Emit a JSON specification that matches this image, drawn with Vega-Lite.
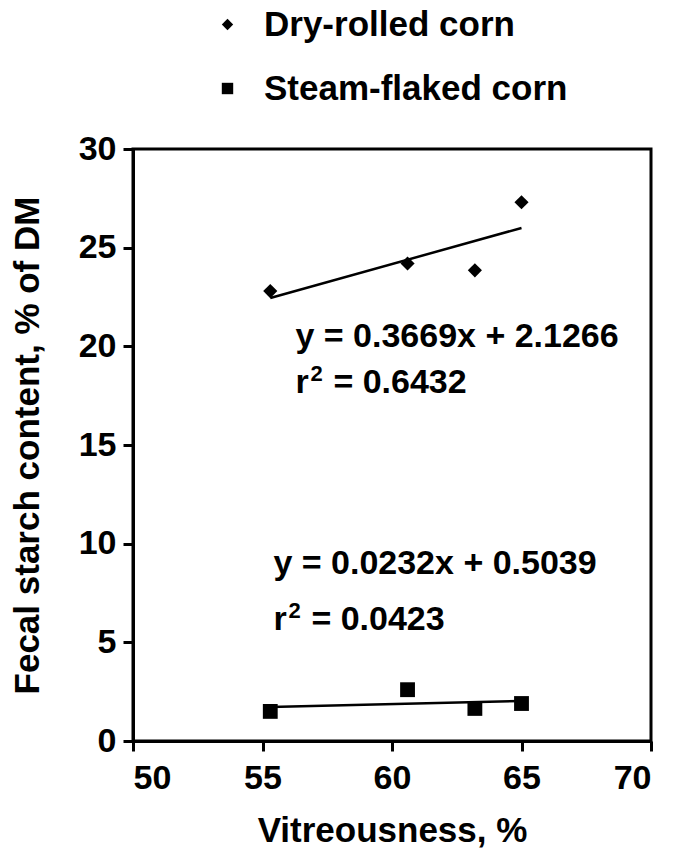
{
  "$schema": "https://vega.github.io/schema/vega-lite/v6.json",
  "width": 518,
  "height": 592,
  "autosize": {"type": "none"},
  "padding": {"left": 133, "top": 149, "right": 26, "bottom": 112},
  "background": "white",
  "config": {
    "font": "Liberation Sans",
    "view": {"stroke": "black", "strokeWidth": 3},
    "axis": {
      "grid": false,
      "domainColor": "black",
      "domainWidth": 3,
      "tickColor": "black",
      "tickWidth": 3,
      "tickSize": 10,
      "labelFont": "Liberation Sans",
      "labelFontSize": 34,
      "labelFontWeight": "bold",
      "labelColor": "black",
      "titleFont": "Liberation Sans",
      "titleFontSize": 35,
      "titleFontWeight": "bold",
      "titleColor": "black"
    },
    "legend": {
      "padding": 0,
      "labelFont": "Liberation Sans",
      "labelFontSize": 35,
      "labelFontWeight": "bold",
      "labelColor": "black",
      "labelLimit": 500,
      "symbolSize": 130,
      "symbolFillColor": "black",
      "symbolStrokeColor": "black",
      "symbolStrokeWidth": 0,
      "labelOffset": 19,
      "rowPadding": 28
    }
  },
  "datasets": {
    "points": [
      {"series": "Dry-rolled corn", "vitreousness": 55.3, "starch": 22.8},
      {"series": "Dry-rolled corn", "vitreousness": 60.6, "starch": 24.2},
      {"series": "Dry-rolled corn", "vitreousness": 63.2, "starch": 23.85},
      {"series": "Dry-rolled corn", "vitreousness": 65.0, "starch": 27.3},
      {"series": "Steam-flaked corn", "vitreousness": 55.3, "starch": 1.5},
      {"series": "Steam-flaked corn", "vitreousness": 60.6, "starch": 2.6},
      {"series": "Steam-flaked corn", "vitreousness": 63.2, "starch": 1.65},
      {"series": "Steam-flaked corn", "vitreousness": 65.0, "starch": 1.9}
    ],
    "fit": [
      {"series": "Dry-rolled corn", "vitreousness": 55.3, "starch": 22.45},
      {"series": "Dry-rolled corn", "vitreousness": 65.0, "starch": 26.0},
      {"series": "Steam-flaked corn", "vitreousness": 55.3, "starch": 1.72},
      {"series": "Steam-flaked corn", "vitreousness": 65.0, "starch": 2.03}
    ],
    "equations": [
      {"label": "y = 0.3669x + 2.1266", "vitreousness": 56.27, "starch": 19.97},
      {"label": "y = 0.0232x + 0.5039", "vitreousness": 55.42, "starch": 8.48}
    ],
    "r2": [
      {"value": "= 0.6432", "vitreousness": 56.27, "starch": 17.65},
      {"value": "= 0.0423", "vitreousness": 55.42, "starch": 5.65}
    ]
  },
  "layer": [
    {
      "data": {"name": "fit"},
      "mark": {"type": "line", "color": "black", "strokeWidth": 2.5},
      "encoding": {
        "x": {"field": "vitreousness", "type": "quantitative"},
        "y": {"field": "starch", "type": "quantitative"},
        "detail": {"field": "series", "type": "nominal"}
      }
    },
    {
      "data": {"name": "points"},
      "transform": [{"filter": "datum.series === 'Dry-rolled corn'"}],
      "mark": {"type": "point", "filled": true, "color": "black", "opacity": 1, "size": 200},
      "encoding": {
        "x": {
          "field": "vitreousness",
          "type": "quantitative",
          "scale": {"domain": [50, 70], "nice": false, "zero": false},
          "axis": {"values": [50, 55, 60, 65, 70], "title": "Vitreousness, %", "labelPadding": 10, "titlePadding": 18}
        },
        "y": {
          "field": "starch",
          "type": "quantitative",
          "scale": {"domain": [0, 30], "nice": false},
          "axis": {"values": [0, 5, 10, 15, 20, 25, 30], "title": "Fecal starch content, % of DM", "labelPadding": 7, "titlePadding": 33}
        },
        "shape": {
          "field": "series",
          "type": "nominal",
          "scale": {"domain": ["Dry-rolled corn", "Steam-flaked corn"], "range": ["diamond", "square"]},
          "legend": {"title": null, "orient": "none", "legendX": 77, "legendY": -142, "direction": "vertical"}
        }
      }
    },
    {
      "data": {"name": "points"},
      "transform": [{"filter": "datum.series === 'Steam-flaked corn'"}],
      "mark": {"type": "point", "filled": true, "color": "black", "opacity": 1, "size": 220},
      "encoding": {
        "x": {"field": "vitreousness", "type": "quantitative"},
        "y": {"field": "starch", "type": "quantitative"},
        "shape": {
          "field": "series",
          "type": "nominal",
          "scale": {"domain": ["Dry-rolled corn", "Steam-flaked corn"], "range": ["diamond", "square"]},
          "legend": {"title": null, "orient": "none", "legendX": 77, "legendY": -142, "direction": "vertical"}
        }
      }
    },
    {
      "data": {"name": "equations"},
      "mark": {"type": "text", "align": "left", "baseline": "alphabetic", "fontSize": 34, "fontWeight": "bold", "color": "black", "font": "Liberation Sans"},
      "encoding": {
        "x": {"field": "vitreousness", "type": "quantitative"},
        "y": {"field": "starch", "type": "quantitative"},
        "text": {"field": "label", "type": "nominal"}
      }
    },
    {
      "data": {"name": "r2"},
      "mark": {"type": "text", "text": "r", "align": "left", "baseline": "alphabetic", "fontSize": 34, "fontWeight": "bold", "color": "black", "font": "Liberation Sans"},
      "encoding": {
        "x": {"field": "vitreousness", "type": "quantitative"},
        "y": {"field": "starch", "type": "quantitative"}
      }
    },
    {
      "data": {"name": "r2"},
      "mark": {"type": "text", "text": "2", "align": "left", "baseline": "alphabetic", "dx": 15, "dy": -12, "fontSize": 22, "fontWeight": "bold", "color": "black", "font": "Liberation Sans"},
      "encoding": {
        "x": {"field": "vitreousness", "type": "quantitative"},
        "y": {"field": "starch", "type": "quantitative"}
      }
    },
    {
      "data": {"name": "r2"},
      "mark": {"type": "text", "align": "left", "baseline": "alphabetic", "dx": 38, "fontSize": 34, "fontWeight": "bold", "color": "black", "font": "Liberation Sans"},
      "encoding": {
        "x": {"field": "vitreousness", "type": "quantitative"},
        "y": {"field": "starch", "type": "quantitative"},
        "text": {"field": "value", "type": "nominal"}
      }
    }
  ]
}
